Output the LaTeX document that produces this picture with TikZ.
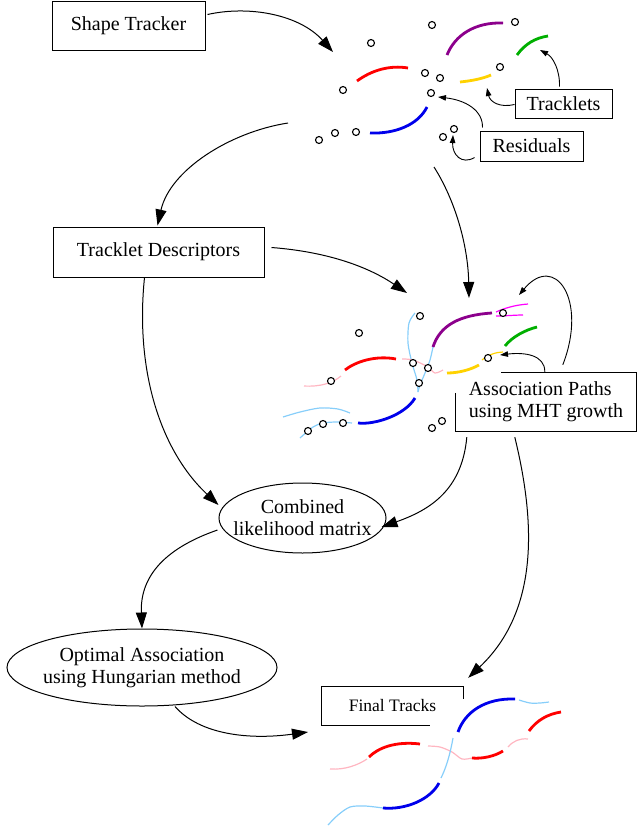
\documentclass[tikz,border=0pt]{standalone}
\usepackage{fontspec}
\setmainfont{Liberation Serif}
\usetikzlibrary{arrows.meta,calc,shapes.geometric}
\definecolor{cred}{RGB}{255,0,0}
\definecolor{cpurple}{RGB}{140,0,140}
\definecolor{cgreen}{RGB}{0,175,0}
\definecolor{cyellow}{RGB}{255,210,0}
\definecolor{cblue}{RGB}{0,0,235}
\definecolor{clblue}{RGB}{135,206,250}
\definecolor{cpink}{RGB}{255,182,193}
\definecolor{cmagenta}{RGB}{255,0,255}
\begin{document}
\begin{tikzpicture}[x=1pt,y=-1pt,
  box/.style={draw,line width=1pt,inner sep=0pt,font=\fontsize{20}{22}\selectfont},
  openbox/.style={inner sep=0pt,font=\fontsize{20}{22}\selectfont},
  border/.style={line width=1pt},
  ell/.style={draw,ellipse,line width=1pt,inner xsep=-80pt,inner ysep=-25pt,align=center,font=\fontsize{20}{22}\selectfont},
  arr/.style={line width=1pt,-{Triangle[length=16pt,width=11pt]}},
  sarr/.style={line width=0.9pt,-{Triangle[length=8pt,width=5.5pt]}},
  res/.style={draw,circle,line width=1.1pt,fill=white,minimum size=7pt,inner sep=0pt},
  trk/.style={line width=2.8pt},
  trkthin/.style={line width=1.2pt},
]
\useasboundingbox (0,0) rectangle (637,828);

% ---- boxes and ellipses
\node[box,minimum width=153pt,minimum height=49pt] (st) at (128.5,25.5) {Shape Tracker};
\node[box,minimum width=211pt,minimum height=50pt] (td) at (158.5,252) {Tracklet Descriptors};
\node[box,minimum width=97pt,minimum height=29pt] (tl) at (563.5,103.5) {Tracklets};
\node[box,minimum width=103pt,minimum height=30pt] (rs) at (531.5,146) {Residuals};
\node[openbox,minimum width=180pt,minimum height=58pt,align=left] (ap) at (546,402) {Association Paths\\using MHT growth};
\draw[border] ($(ap.north west)+(0,20)$) -- (ap.south west) -- (ap.south east) -- (ap.north east) -- ($(ap.north west)+(45,0)$);
\node[openbox,minimum width=141pt,minimum height=38pt,font=\fontsize{17.5}{20}\selectfont] (ft) at (392.5,706) {Final Tracks};
\draw[border] ($(ft.south west)+(108,0)$) -- (ft.south west) -- (ft.north west) -- (ft.north east) -- ($(ft.north east)+(0,12)$);
\node[ell,minimum width=167pt,minimum height=70pt] (cl) at (302.5,518) {Combined\\likelihood matrix};
\node[ell,minimum width=270pt,minimum height=77pt] (oa) at (142,667.5) {Optimal Association\\using Hungarian method};

% ---- free ends of connectors
\coordinate (t1) at (333,52);
\coordinate (s2) at (288,123);
\coordinate (t3) at (407,293);
\coordinate (s4) at (434,167);
\coordinate (t4) at (469,298);
\coordinate (t5) at (519,295);
\coordinate (t6) at (500,355);
\coordinate (t7) at (487,88);
\coordinate (t8) at (540,50);
\coordinate (t9) at (438,97);
\coordinate (t10) at (453,135);
\coordinate (t15) at (308,732);

% ---- connectors
\draw[arr] ($(st.north east)+(2,14)$) .. controls (250,5) and (300,15) .. (t1);
\draw[arr] (s2) .. controls (230,132) and (170,170) .. ($(td.north west)+(105,-1)$);
\draw[arr] ($(td.north east)+(7,21)$) .. controls (330,252) and (370,268) .. (t3);
\draw[arr] (s4) .. controls (455,200) and (468,245) .. (t4);
\draw[sarr] ($(ap.north west)+(107,-8)$) .. controls (588,300) and (555,252) .. (t5);
\draw[sarr] ($(ap.north west)+(89,-1)$) .. controls (545,355) and (525,352) .. (t6);
\draw[sarr] ($(tl.north west)+(0,16)$) .. controls (500,108) and (490,102) .. (t7);
\draw[sarr] ($(tl.north west)+(45,-2)$) .. controls (560,70) and (553,57) .. (t8);
\draw[sarr] ($(rs.north west)+(3,-3)$) .. controls (483,110) and (465,100) .. (t9);
\draw[sarr] ($(rs.north west)+(-5,27)$) .. controls (462,165) and (452,155) .. (t10);
\draw[arr] ($(td.south west)+(92,0)$) .. controls (135,370) and (160,450) .. ($(cl.west)+(0,-13)$);
\draw[arr] ($(ap.south west)+(11,6)$) .. controls (462,490) and (430,510) .. ($(cl.east)+(-5,9)$);
\draw[arr] ($(cl.west)+(-1,12)$) .. controls (160,550) and (140,580) .. (oa.north);
\draw[arr] ($(ap.south west)+(59,6)$) .. controls (535,520) and (540,610) .. ($(ft.north east)+(5,-9)$);
\draw[arr] ($(oa.south)+(33,0)$) .. controls (200,735) and (250,740) .. (t15);

% ---- top cluster
\draw[trk,cred] (357,81) .. controls (372,70) and (390,65) .. (408,68);
\draw[trk,cpurple] (447,55) .. controls (455,35) and (475,22) .. (503,23);
\draw[trk,cgreen] (517,55) .. controls (525,44) and (535,38) .. (548,36);
\draw[trk,cyellow] (460,82) .. controls (470,81) and (482,79) .. (491,75);
\draw[trk,cblue] (370,133) .. controls (395,134) and (418,125) .. (427,107);
\foreach \n/\p in {a1/{(432,25)},a2/{(515,22)},a3/{(371,43)},a4/{(425,73)},a5/{(440,78)},a6/{(500,67)},a7/{(343,90)},a8/{(431,93)},a9/{(319,140)},a10/{(335,133)},a11/{(356,132)},a12/{(443,137)},a13/{(454,129)}}
  \node[res] (\n) at \p {};

% ---- middle cluster
\draw[trkthin,clblue] plot[smooth] coordinates {(415,313) (409,323) (408,343) (412,363) (417,380) (418,392)};
\draw[trkthin,clblue] plot[smooth] coordinates {(433,347) (430,360) (425,373) (420,385) (418,392)};
\draw[trkthin,cpink] (304,386) .. controls (320,387) and (333,383) .. (341,376);
\draw[trkthin,cpink] plot[smooth] coordinates {(402,359) (413,360) (428,367) (435,373) (443,370)};
\draw[trkthin,cmagenta] (496,312) .. controls (505,308) and (515,305) .. (528,304);
\draw[trkthin,cmagenta] (496,316) .. controls (505,316) and (515,315) .. (523,315);
\draw[trkthin,cyellow] (482,360) .. controls (488,355) and (496,352) .. (503,352);
\draw[trkthin,clblue] plot[smooth] coordinates {(283,417) (300,412) (320,408) (338,409) (350,413)};
\draw[trkthin,clblue] plot[smooth] coordinates {(300,438) (313,427) (323,423) (337,422) (352,423)};
\draw[trk,cpurple] (433,347) .. controls (440,325) and (460,315) .. (492,313);
\draw[trk,cgreen] (505,346) .. controls (512,337) and (525,330) .. (537,327);
\draw[trk,cyellow] (447,373) .. controls (458,373) and (470,370) .. (479,365);
\draw[trk,cred] (345,370) .. controls (355,362) and (375,355) .. (396,359);
\draw[trk,cblue] (358,423) .. controls (375,425) and (405,415) .. (415,398);
\foreach \n/\p in {b1/{(420,316)},b2/{(359,333)},b3/{(503,313)},b4/{(488,358)},b5/{(331,381)},b6/{(413,363)},b7/{(428,368)},b8/{(419,383)},b9/{(308,431)},b10/{(323,424)},b11/{(343,423)},b12/{(432,428)},b13/{(442,421)}}
  \node[res] (\n) at \p {};

% ---- bottom cluster
\draw[trkthin,clblue] plot[smooth] coordinates {(519,700) (530,703) (540,703) (549,702)};
\draw[trkthin,cpink] (508,747) .. controls (513,741) and (520,738) .. (528,739);
\draw[trkthin,cpink] plot[smooth] coordinates {(428,746) (440,747) (452,752) (462,759) (472,758)};
\draw[trkthin,cpink] (330,769) .. controls (345,770) and (358,765) .. (367,759);
\draw[trkthin,clblue] (453,738) .. controls (450,755) and (446,768) .. (441,778);
\draw[trkthin,clblue] plot[smooth] coordinates {(328,825) (338,815) (350,807) (365,806) (383,808)};
\draw[trk,cblue] (458,732) .. controls (465,712) and (485,698) .. (515,699);
\draw[trk,cred] (529,731) .. controls (537,720) and (548,714) .. (561,712);
\draw[trk,cred] (472,758) .. controls (483,759) and (495,756) .. (503,751);
\draw[trk,cred] (369,757) .. controls (378,748) and (395,741) .. (420,744);
\draw[trk,cblue] (383,808) .. controls (405,810) and (430,800) .. (439,783);
\end{tikzpicture}
\end{document}
